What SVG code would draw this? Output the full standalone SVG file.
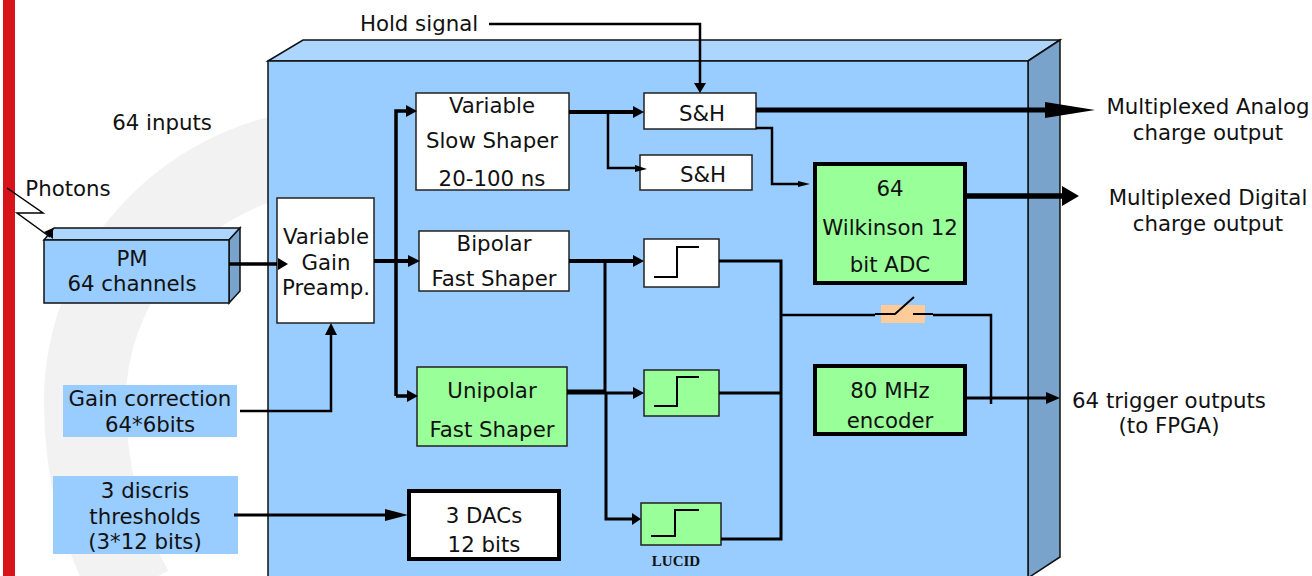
<svg xmlns="http://www.w3.org/2000/svg" width="1312" height="576" viewBox="0 0 1312 576">
<style>
text{font-family:"DejaVu Sans","Liberation Sans",sans-serif;font-size:21.3px;fill:#111;text-anchor:middle}
.b{fill:#fff;stroke:#222;stroke-width:1.5}
.g{fill:#99ff99;stroke:#222;stroke-width:1.5}
.gt{fill:#99ff99;stroke:#000;stroke-width:4}
.bl{fill:#99ccff}
.c{fill:none;stroke:#000;stroke-linejoin:miter}
.s{fill:none;stroke:#000;stroke-width:2}
.a{fill:#000}
</style>
<rect x="3" y="0" width="12" height="576" fill="#d7141a"/>
<path d="M300 152C170 175 85 285 85 400C85 470 100 530 132 590" fill="none" stroke="#f2f2f2" stroke-width="82"/>
<g id="asic">
<polygon points="268,61 303,40 1060,40 1028,61" fill="#add6ff" stroke="#111" stroke-width="1.5"/>
<polygon points="1028,61 1060,40 1060,557 1028,578" fill="#7aa3cc" stroke="#111" stroke-width="1.5"/>
<rect x="268" y="61" width="760" height="520" class="bl" stroke="#111" stroke-width="1.5"/>
</g>
<g id="pm">
<polygon points="44,240 54,228 240,228 229,240" fill="#add6ff" stroke="#111" stroke-width="1.5"/>
<polygon points="229,240 240,228 240,291 229,303" fill="#7aa3cc" stroke="#111" stroke-width="1.5"/>
<rect x="44" y="240" width="185" height="63" class="bl" stroke="#111" stroke-width="1.5"/>
<text x="132" y="266">PM</text><text x="132" y="291">64 channels</text>
</g>
<g id="labels">
<text x="419" y="31">Hold signal</text>
<text x="162" y="130">64 inputs</text>
<text x="68" y="196">Photons</text>
<text x="1208" y="114">Multiplexed Analog</text>
<text x="1208" y="140">charge output</text>
<text x="1208" y="205">Multiplexed Digital</text>
<text x="1208" y="231">charge output</text>
<text x="1169" y="408">64 trigger outputs</text>
<text x="1169" y="433">(to FPGA)</text>
<text x="676" y="566" style="font-family:'Liberation Serif',serif;font-size:15px;font-weight:bold">LUCID</text>
</g>
<g id="gain-correction"><rect x="63" y="385" width="174" height="52" class="bl"/><text x="150" y="406">Gain correction</text><text x="150" y="432">64*6bits</text></g>
<g id="thresholds"><rect x="53" y="476" width="185" height="78" class="bl"/><text x="145" y="498">3 discris</text><text x="145" y="524">thresholds</text><text x="145" y="549">(3*12 bits)</text></g>
<g id="preamp"><rect x="277" y="198" width="97" height="125" class="b"/><text x="326" y="244">Variable</text><text x="326" y="270">Gain</text><text x="326" y="295">Preamp.</text></g>
<g id="slow"><rect x="416" y="93" width="153" height="97" class="b"/><text x="492" y="113">Variable</text><text x="492" y="148">Slow Shaper</text><text x="492" y="186">20-100 ns</text></g>
<g id="bipolar"><rect x="419" y="231" width="150" height="60" class="b"/><text x="494" y="251">Bipolar</text><text x="494" y="286">Fast Shaper</text></g>
<g id="unipolar"><rect x="417" y="367" width="150" height="79" class="g"/><text x="492" y="398">Unipolar</text><text x="492" y="437">Fast Shaper</text></g>
<g id="dacs"><rect x="409" y="491" width="150" height="68" fill="#fff" stroke="#000" stroke-width="4"/><text x="484" y="523">3 DACs</text><text x="484" y="552">12 bits</text></g>
<g id="sh1"><rect x="644" y="93" width="112" height="36" class="b"/><text x="702" y="121">S&amp;H</text></g>
<g id="sh2"><rect x="640" y="155" width="112" height="35" class="b"/><text x="703" y="182">S&amp;H</text></g>
<g id="adc"><rect x="815" y="164" width="150" height="119" class="gt"/><text x="890" y="196">64</text><text x="890" y="235">Wilkinson 12</text><text x="890" y="272">bit ADC</text></g>
<g id="encoder"><rect x="815" y="366" width="150" height="68" class="gt"/><text x="890" y="398">80 MHz</text><text x="890" y="428">encoder</text></g>
<g id="disc1"><rect x="644" y="239" width="75" height="48" class="b"/><path class="s" d="M654 277H677V247H699"/></g>
<g id="disc2"><rect x="644" y="370" width="75" height="46" class="g"/><path class="s" d="M654 406H677V377H699"/></g>
<g id="disc3"><rect x="641" y="503" width="80" height="42" class="g"/><path class="s" d="M651 536H675V510H699"/></g>
<g id="switch"><rect x="881" y="305" width="44" height="18" fill="#ffcc99"/><path class="s" d="M875 314H895L914 297M913 314H933"/></g>
<g id="connectors">
<path class="c" stroke-width="2.5" d="M489 24H700V84"/><polygon class="a" points="694,83 706,83 700,93"/>
<path class="c" stroke-width="3.5" d="M229 264H277"/><polygon class="a" points="278,258 288,264 278,270"/>
<path class="c" stroke-width="4" d="M374 261H408"/><polygon class="a" points="408,255 420,261 408,267"/>
<path class="c" stroke-width="3.5" d="M396 396V111H408"/><polygon class="a" points="406,105 417,111 406,117"/>
<path class="c" stroke-width="3.5" d="M396 396H408"/><polygon class="a" points="407,390 418,396 407,402"/>
<path class="c" stroke-width="2.5" d="M240 411H331V333"/><polygon class="a" points="325,335 331,323 337,335"/>
<path class="c" stroke-width="3" d="M234 515H392"/><polygon class="a" points="385,509 408,515 385,521"/>
<path class="c" stroke-width="4" d="M569 112H634"/><polygon class="a" points="633,106 644,112 633,118"/>
<path class="c" stroke-width="2.5" d="M608 112V168H636"/><polygon class="a" points="635,165 647,169 635,172"/>
<path class="c" stroke-width="5" d="M756 110H1046"/><polygon class="a" points="1045,102 1095,110 1045,118"/>
<path class="c" stroke-width="2.5" d="M756 128H772V184H798"/><polygon class="a" points="798,181 810,184 798,187"/>
<path class="c" stroke-width="5.5" d="M965 196H1064"/><polygon class="a" points="1062,186 1079,196 1062,206"/>
<path class="c" stroke-width="4" d="M569 261H634"/><polygon class="a" points="633,255 644,261 633,267"/>
<path class="c" stroke-width="3" d="M605 261V392"/><path class="c" stroke-width="3" d="M606 392V519H632"/><polygon class="a" points="632,513 641,519 632,525"/>
<path class="c" stroke-width="5" d="M567 392H605"/><path class="c" stroke-width="3" d="M605 393H634"/><polygon class="a" points="633,387 644,393 633,399"/>
<path class="c" stroke-width="3" d="M719 261H781V539H721M719 393H781"/>
<path class="c" stroke-width="2.5" d="M781 315H875M933 315H991V404"/>
<path class="c" stroke-width="3" d="M965 398H1048"/><polygon class="a" points="1046,392 1060,398 1046,404"/>
<path class="c" stroke-width="1.5" d="M7 188L43 213H17L50 237"/><polygon class="a" points="44,232 53,228 53,239"/>
</g>
</svg>
